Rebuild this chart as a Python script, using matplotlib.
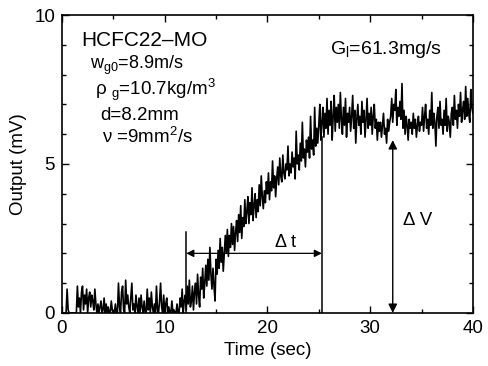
import numpy as np
import matplotlib
matplotlib.use("Agg")
from matplotlib import pyplot as plt
from matplotlib.ticker import MultipleLocator

plt.rcParams['font.family'] = ['Liberation Sans', 'DejaVu Sans']
plt.rcParams['mathtext.default'] = 'regular'

## Signal read off the picture, sampled every 0.1 s
# baseline 0.0 - 11.9 s
base = [0, 0, 0, 0, 0, 0.8, 0.1, 0, 0, 0, 0, 0, 0, 0, 0,
        0.9, 0.2, 0.5, 0.0, 0.7, 0.9, 0.1, 0.6, 0.3, 0.8, 0.0, 0.5, 0.7, 0.2, 0.6, 0.4, 0.1, 0.8, 0.3, 0.0,
        0.3, 0.0, 0.2, 0.4, 0.0, 0.1, 0.5, 0.0, 0.3, 0.0, 0.2, 0.0, 0.0, 0.4, 0.1, 0.0, 0.0, 0.3, 0.0, 0.0,
        1.0, 0.2, 0.0, 0.7, 0.9, 0.1, 0.0, 1.1, 0.3, 0.6, 0.2, 0.0, 0.5, 1.0, 0.1, 0.3, 0.0, 0.6, 0.2, 0.0,
        0.5, 0.0, 0.6, 0.2, 0.0, 0.4, 0.0, 0.0, 0.8, 0.1, 0.5, 0.0, 0.7, 0.2, 0.0, 0.3, 0.0, 0.9, 0.1, 0.0,
        0.4, 1.0, 0.2, 0.0, 0.6, 0.0, 0.3, 0.5, 0.0, 0.2, 0.0, 0.0, 0.4, 0.0, 0.1, 0.0, 0.0, 0.3, 0.0, 0.0,
        0.5, 0.2, 0.8, 0.0, 0.4]
# rise 12.0 - 25.2 s
rise = [0.6, 0.1, 0.9, 0.3, 1.1, 0.2, 0.4, 0.9, 0.1, 0.7,
        1.0, 0.3, 1.3, 0.6, 0.2, 1.2, 0.8, 1.5, 0.5, 1.0,
        1.6, 0.9, 1.8, 1.1, 2.2, 1.3, 0.8, 1.5, 0.9, 0.4,
        1.8, 1.3, 2.1, 1.5, 2.5, 1.7, 2.2, 1.4, 2.0, 2.6,
        2.0, 2.8, 1.9, 2.6, 2.2, 3.0, 2.3, 2.9, 2.1, 2.7,
        3.1, 2.4, 3.3, 2.7, 3.6, 2.5, 3.2, 2.9, 3.8, 3.0,
        3.4, 3.9, 3.0, 3.7, 3.3, 4.2, 3.1, 3.6, 4.0, 3.2,
        3.8, 3.4, 4.3, 3.6, 4.6, 3.9, 3.5, 4.1, 3.7, 4.4,
        4.0, 4.7, 3.8, 4.4, 4.1, 5.1, 4.2, 4.6, 3.9, 4.5,
        4.9, 4.3, 5.2, 4.6, 4.4, 5.3, 4.7, 4.5, 5.0, 4.8,
        5.6, 4.6, 5.0, 4.7, 5.4, 4.9, 5.2, 4.5, 6.1, 5.0,
        5.3, 4.8, 5.7, 5.1, 6.4, 5.2, 5.5, 4.9, 5.8, 5.4,
        5.9, 5.2, 6.6, 5.5, 5.8, 5.3, 6.9, 5.6, 6.2, 5.7,
        6.3, 7.0, 5.8]
# plateau 25.3 - 40.0 s
plateau = [6.4, 6.9, 5.9, 6.7, 6.2, 7.2, 6.0,
           6.8, 6.3, 7.1, 5.8, 6.6, 7.3, 6.1, 6.9, 6.4, 7.0,
           6.2, 7.4, 6.5, 6.0, 6.9, 6.3, 7.2, 5.9, 6.7, 6.4,
           6.9, 6.1, 6.6, 7.3, 6.2, 6.8, 5.7, 6.5, 7.0, 6.3,
           6.6, 6.0, 7.1, 6.4, 6.8, 5.9, 6.5, 7.2, 6.2, 6.7,
           6.3, 6.9, 6.0, 6.6, 7.0, 6.2, 6.5, 5.8, 6.4, 6.1,
           6.4, 5.9, 6.3, 6.7, 6.0, 6.2, 5.7, 6.5, 6.1, 6.4,
           6.6, 7.2, 6.4, 7.0, 6.8, 7.5, 6.3, 6.9, 6.6, 7.1,
           6.5, 7.7, 6.2, 6.8, 6.0, 6.6, 6.3, 5.8, 6.5, 6.2,
           6.4, 6.0, 6.7, 6.2, 6.5, 5.9, 6.3, 6.6, 6.1, 6.4,
           6.3, 6.9, 6.1, 6.6, 7.0, 6.2, 6.5, 6.0, 6.8, 6.3,
           7.4, 6.2, 6.7, 6.4, 5.6, 6.6, 6.9, 6.2, 7.1, 6.3,
           6.5, 6.0, 6.8, 6.3, 7.2, 6.1, 6.6, 6.4, 5.9, 6.7,
           6.9, 6.3, 7.3, 6.5, 6.8, 6.2, 7.0, 6.6, 7.4, 6.4,
           6.8, 7.1, 6.5, 7.6, 6.6, 7.2, 6.7, 6.4, 7.5, 6.9,
           6.7]

output = np.array(base + rise + plateau)
time = np.arange(len(output)) * 0.1

# markers for delay and amplitude
t_start, t_end, t_dv = 12.1, 25.3, 32.2
v_plateau = 5.9

fig = plt.figure(figsize=(4.88, 3.66), dpi=100)
ax = fig.add_axes([0.127, 0.145, 0.842, 0.814])
for s in ax.spines.values():
    s.set_linewidth(1.2)

ax.plot(time, output, color='black', linewidth=1.2)

# delay lines and arrows
ax.plot([t_start, t_start], [0, 2.7], color='black', linewidth=1.1)
ax.plot([t_end, t_end], [0, v_plateau], color='black', linewidth=1.1)
ax.annotate('', xy=(t_start, 2.0), xytext=(t_end, 2.0),
            arrowprops=dict(arrowstyle='<|-|>', color='black', lw=0.9,
                            mutation_scale=11, shrinkA=0, shrinkB=0))
ax.annotate('', xy=(t_dv, 5.8), xytext=(t_dv, 0),
            arrowprops=dict(arrowstyle='<|-|>', color='black', lw=1.0,
                            mutation_scale=13, shrinkA=0, shrinkB=0))
ax.text(21.8, 2.35, 'Δ t', fontsize=13, ha='center', va='center')
ax.text(34.6, 3.1, 'Δ V', fontsize=13.5, ha='center', va='center')

# conditions
ax.text(1.9, 9.16, 'HCFC22–MO', fontsize=15, va='center')
ax.text(2.7, 8.3, 'w$_{g0}$=8.9m/s', fontsize=13, va='center')
ax.text(3.2, 7.5, 'ρ $_{g}$=10.7kg/m$^{3}$', fontsize=13.5, va='center')
ax.text(3.7, 6.64, 'd=8.2mm', fontsize=13.5, va='center')
ax.text(3.9, 5.9, 'ν =9mm$^{2}$/s', fontsize=13.5, va='center')
ax.text(26.1, 8.83, 'G$_{l}$=61.3mg/s', fontsize=14, va='center')

ax.set_xlim(0, 40)
ax.set_ylim(0, 10)
ax.xaxis.set_major_locator(MultipleLocator(10))
ax.xaxis.set_minor_locator(MultipleLocator(5))
ax.yaxis.set_major_locator(MultipleLocator(5))
ax.yaxis.set_minor_locator(MultipleLocator(1))
ax.tick_params(which='both', direction='in', top=True, right=True, labelsize=13.5, width=1)
ax.tick_params(which='major', length=5, pad=5)
ax.tick_params(which='minor', length=3)
ax.set_xlabel('Time (sec)', fontsize=13.5, labelpad=4)
ax.set_ylabel('Output (mV)', fontsize=13.5, labelpad=5)

plt.savefig('out.png', dpi=100)
